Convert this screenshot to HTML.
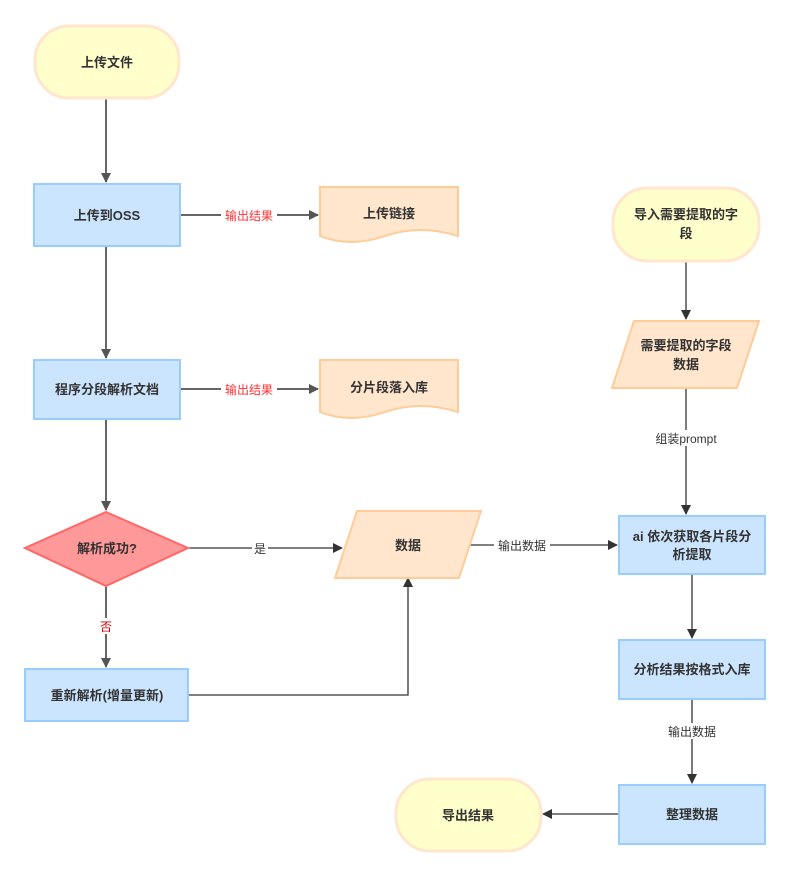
<!DOCTYPE html>
<html><head><meta charset="utf-8"><style>
html,body{margin:0;padding:0;background:#fff;}
svg{display:block;}
text{font-family:"Liberation Sans","Noto Sans CJK SC",sans-serif;}
.b{font-weight:bold;font-size:13px;fill:#333;}
.l{font-size:12px;}
</style></head><body>
<svg width="789" height="876" viewBox="0 0 789 876" xmlns="http://www.w3.org/2000/svg">
<defs>
<marker id="ag" markerWidth="10" markerHeight="10" refX="9" refY="5" orient="auto" markerUnits="userSpaceOnUse"><path d="M0,0 L10,5 L0,10 z" fill="#555"/></marker>
<marker id="ad" markerWidth="10" markerHeight="10" refX="9" refY="5" orient="auto" markerUnits="userSpaceOnUse"><path d="M0,0 L10,5 L0,10 z" fill="#333"/></marker>
</defs>
<!-- left connectors -->
<g stroke="#666" stroke-width="2" fill="none">
<line x1="106" y1="99" x2="106" y2="182" marker-end="url(#ag)"/>
<line x1="106" y1="247" x2="106" y2="358" marker-end="url(#ag)"/>
<line x1="106" y1="420" x2="106" y2="510" marker-end="url(#ag)"/>
<line x1="180" y1="215" x2="318" y2="215" marker-end="url(#ag)"/>
<line x1="180" y1="389" x2="318" y2="389" marker-end="url(#ag)"/>
<line x1="106" y1="587" x2="106" y2="667" marker-end="url(#ag)"/>
</g>
<g stroke="#333" stroke-width="1.3" fill="none">
<line x1="189" y1="548" x2="342" y2="548" marker-end="url(#ad)"/>
<polyline points="189,695 408,695 408,578" marker-end="url(#ad)"/>
<line x1="469" y1="545" x2="617" y2="545" marker-end="url(#ad)"/>
<line x1="686" y1="262" x2="686" y2="319" marker-end="url(#ad)"/>
<line x1="686" y1="388" x2="686" y2="514" marker-end="url(#ad)"/>
<line x1="692" y1="575" x2="692" y2="638" marker-end="url(#ad)"/>
<line x1="692" y1="700" x2="692" y2="783" marker-end="url(#ad)"/>
<line x1="618" y1="814" x2="543" y2="814" marker-end="url(#ad)"/>
</g>
<!-- labels on connectors -->
<rect x="221" y="207" width="56" height="16" fill="#fff"/>
<text x="249" y="220" class="l" fill="#ff3333" text-anchor="middle">输出结果</text>
<rect x="221" y="381" width="56" height="16" fill="#fff"/>
<text x="249" y="394" class="l" fill="#ff3333" text-anchor="middle">输出结果</text>
<rect x="252" y="540" width="16" height="16" fill="#fff"/>
<text x="260" y="553" class="l" fill="#333" text-anchor="middle">是</text>
<rect x="98" y="618" width="16" height="16" fill="#fff"/>
<text x="106" y="631" class="l" fill="#cc0000" text-anchor="middle">否</text>
<rect x="494" y="537" width="56" height="16" fill="#fff"/>
<text x="522" y="550" class="l" fill="#333" text-anchor="middle">输出数据</text>
<rect x="646" y="430" width="80" height="16" fill="#fff"/>
<text x="686" y="443" class="l" fill="#333" text-anchor="middle">组装prompt</text>
<rect x="664" y="723" width="56" height="16" fill="#fff"/>
<text x="692" y="736" class="l" fill="#333" text-anchor="middle">输出数据</text>
<!-- nodes -->
<rect x="35" y="26" width="144" height="72" rx="34" fill="#FFFFCC" stroke="#FFE6CC" stroke-width="3"/>
<text x="107" y="67" class="b" text-anchor="middle">上传文件</text>
<rect x="34" y="184" width="146" height="62" fill="#CCE5FF" stroke="#99CCFF" stroke-width="2"/>
<text x="107" y="220" class="b" text-anchor="middle">上传到OSS</text>
<rect x="34" y="360" width="146" height="59" fill="#CCE5FF" stroke="#99CCFF" stroke-width="2"/>
<text x="107" y="394" class="b" text-anchor="middle">程序分段解析文档</text>
<path d="M320,187 L458,187 L458,236 Q420,224 385,236 Q350,248 320,236 Z" fill="#FFE6CC" stroke="#FFCC99" stroke-width="2"/>
<text x="389" y="218" class="b" text-anchor="middle">上传链接</text>
<path d="M320,360 L458,360 L458,412 Q420,400 385,412 Q350,424 320,412 Z" fill="#FFE6CC" stroke="#FFCC99" stroke-width="2"/>
<text x="389" y="392" class="b" text-anchor="middle">分片段落入库</text>
<polygon points="106,512 188,548 106,586 25,548" fill="#FF9999" stroke="#FF6666" stroke-width="2"/>
<text x="107" y="553" class="b" text-anchor="middle">解析成功?</text>
<rect x="25" y="669" width="163" height="52" fill="#CCE5FF" stroke="#99CCFF" stroke-width="2"/>
<text x="107" y="700" class="b" text-anchor="middle">重新解析(增量更新)</text>
<polygon points="357,511 481,511 459,578 335,578" fill="#FFE6CC" stroke="#FFCC99" stroke-width="2"/>
<text x="408" y="550" class="b" text-anchor="middle">数据</text>
<rect x="613" y="188" width="146" height="73" rx="34" fill="#FFFFCC" stroke="#FFE6CC" stroke-width="3"/>
<text x="686" y="219" class="b" text-anchor="middle">导入需要提取的字</text>
<text x="686" y="238" class="b" text-anchor="middle">段</text>
<polygon points="634,321 759,321 737,388 612,388" fill="#FFE6CC" stroke="#FFCC99" stroke-width="2"/>
<text x="686" y="350" class="b" text-anchor="middle">需要提取的字段</text>
<text x="686" y="369" class="b" text-anchor="middle">数据</text>
<rect x="619" y="516" width="146" height="58" fill="#CCE5FF" stroke="#99CCFF" stroke-width="2"/>
<text x="692" y="541" class="b" text-anchor="middle">ai 依次获取各片段分</text>
<text x="692" y="559" class="b" text-anchor="middle">析提取</text>
<rect x="619" y="640" width="146" height="59" fill="#CCE5FF" stroke="#99CCFF" stroke-width="2"/>
<text x="692" y="674" class="b" text-anchor="middle">分析结果按格式入库</text>
<rect x="619" y="785" width="146" height="59" fill="#CCE5FF" stroke="#99CCFF" stroke-width="2"/>
<text x="692" y="819" class="b" text-anchor="middle">整理数据</text>
<rect x="396" y="779" width="145" height="72" rx="34" fill="#FFFFCC" stroke="#FFE6CC" stroke-width="3"/>
<text x="468" y="820" class="b" text-anchor="middle">导出结果</text>
</svg>
</body></html>
